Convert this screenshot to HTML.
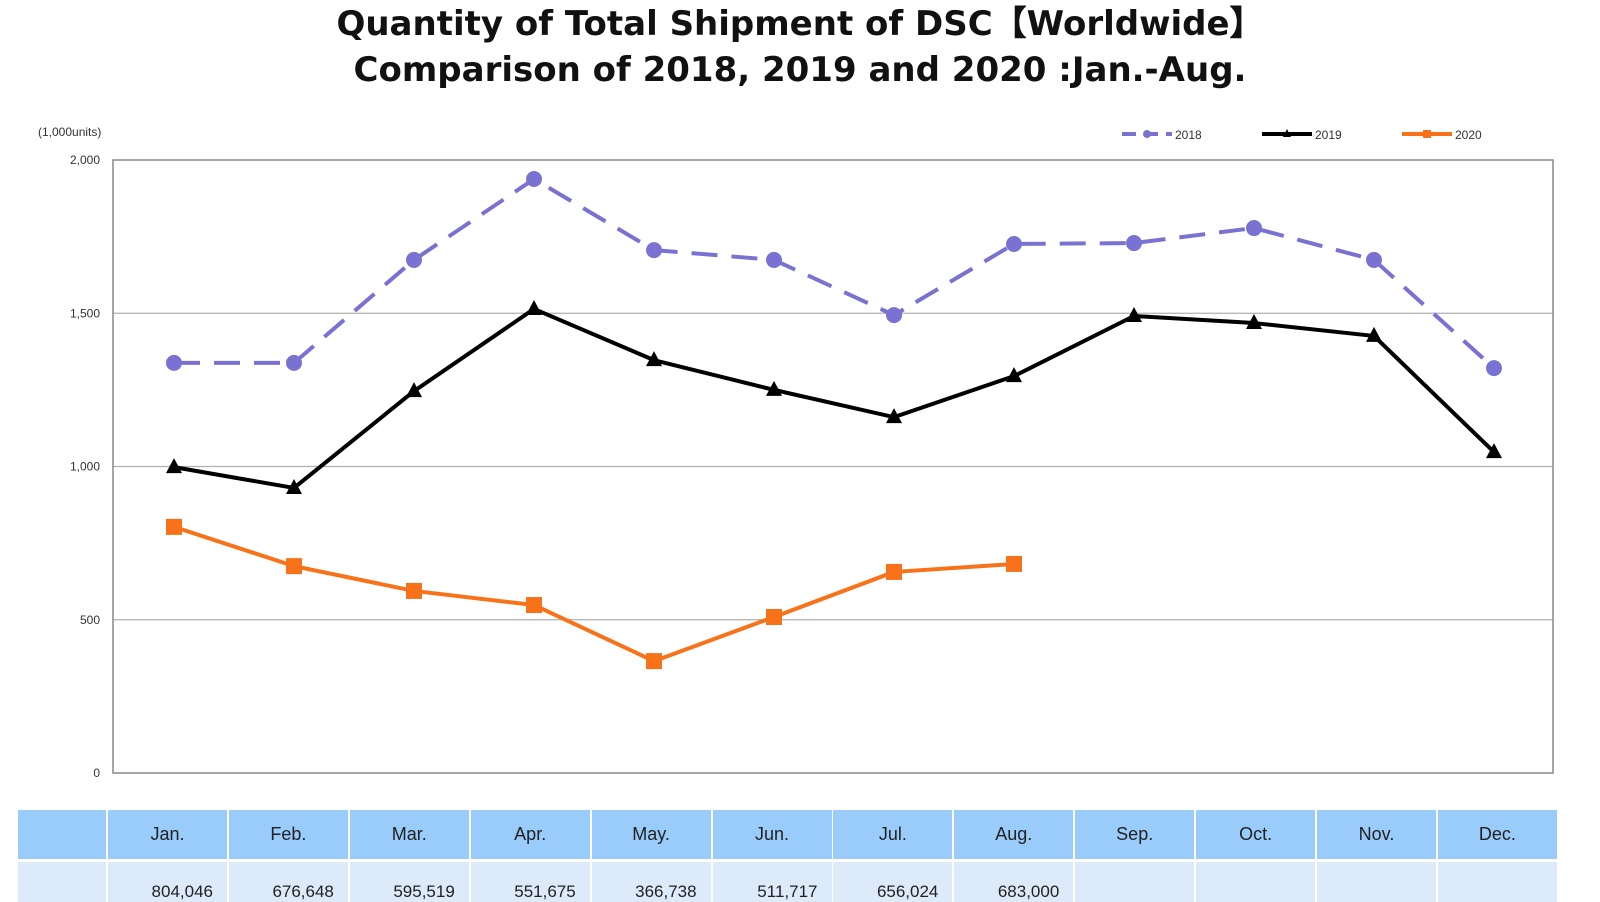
<!DOCTYPE html>
<html><head><meta charset="utf-8"><style>
body{margin:0;background:#fff;width:1600px;height:900px;overflow:hidden;font-family:"Liberation Sans",sans-serif;position:relative}
.t{position:absolute;left:0;width:1600px;text-align:center;font-weight:bold;font-size:34px;color:#111;font-family:"DejaVu Sans","Liberation Sans",sans-serif}
.cell{position:absolute;box-sizing:border-box;text-align:center;font-size:18px;color:#222}
</style></head><body>
<div class="t" style="top:-4px">Quantity of Total Shipment of DSC【Worldwide】</div>
<div class="t" style="top:50px">Comparison of 2018, 2019 and 2020 :Jan.-Aug.</div>
<svg id="chart" width="1600" height="800" style="position:absolute;left:0;top:0"></svg>
<div id="table"></div>
<script>
const months=["Jan.","Feb.","Mar.","Apr.","May.","Jun.","Jul.","Aug.","Sep.","Oct.","Nov.","Dec."];
const s2018=[1338,1338,1674,1938,1706,1674,1494,1726,1729,1778,1674,1321];
const s2019=[998,930,1246,1514,1347,1250,1161,1295,1491,1468,1426,1047];
const s2020=[803,675,594,548,365,509,656,682];
const yTicks=[0,500,1000,1500,2000];
const tickLabels=["0","500","1,000","1,500","2,000"];
const row2020=["804,046","676,648","595,519","551,675","366,738","511,717","656,024","683,000"];
const NS="http://www.w3.org/2000/svg";
const svg=document.getElementById('chart');
const L=113,R=1553,T=160,B=773;
const x=i=>174+i*(R-L)/12;
const y=v=>B-(v/2000)*(B-T);
function el(tag,a,parent){const e=document.createElementNS(NS,tag);for(const k in a)e.setAttribute(k,a[k]);(parent||svg).appendChild(e);return e;}
yTicks.forEach((v,i)=>{
 if(v>0&&v<2000){const g=el('line',{x1:L,x2:R,y1:y(v),y2:y(v),stroke:'#b0b0b0','stroke-width':1.2});
 
 }
 const t=el('text',{x:100,y:y(v)+4,'text-anchor':'end','font-size':12,fill:'#333'});t.textContent=tickLabels[i];
 
 
});
const fr=el('rect',{x:L,y:T,width:R-L,height:B-T,fill:'none',stroke:'#888','stroke-width':1.5});


const u=el('text',{x:38,y:136,'font-size':12,fill:'#333'});u.textContent='(1,000units)';


function series(data,color,dash,marker,name){
 const pl=el('polyline',{points:data.map((v,i)=>x(i)+','+y(v)).join(' '),fill:'none',stroke:color,'stroke-width':4,'stroke-dasharray':dash||'none','stroke-linejoin':'round'});
 
 
 data.forEach((v,i)=>{let m;
  if(marker==='c')m=el('circle',{cx:x(i),cy:y(v),r:8,fill:color});
  else if(marker==='t')m=el('polygon',{points:`${x(i)},${y(v)-9} ${x(i)-8},${y(v)+6} ${x(i)+8},${y(v)+6}`,fill:color});
  else m=el('rect',{x:x(i)-8,y:y(v)-8,width:16,height:16,fill:color});
  
  
 });
}
series(s2018,'#7a72d2','26,14','c','2018');
series(s2019,'#000','','t','2019');
series(s2020,'#f87219','','s','2020');
[['2018','#7a72d2',1122,'c'],['2019','#000',1262,'t'],['2020','#f87219',1402,'s']].forEach(l=>{
 const g=el('g',{});
 
 
 el('line',{x1:l[2],x2:l[2]+50,y1:134,y2:134,stroke:l[1],'stroke-width':4,'stroke-dasharray':l[3]==='c'?'14,8':'none'},g);
 if(l[3]==='c')el('circle',{cx:l[2]+25,cy:134,r:4,fill:l[1]},g);
 else if(l[3]==='s')el('rect',{x:l[2]+21,y:130,width:8,height:8,fill:l[1]},g);
 else el('polygon',{points:`${l[2]+25},129 ${l[2]+21},137 ${l[2]+29},137`,fill:l[1]},g);
 const t=el('text',{x:l[2]+53,y:139,'font-size':12,fill:'#333'},g);t.textContent=l[0];
});
const tb=document.getElementById('table');
function cell(left,top,w,h,bg,txt,name){const d=document.createElement('div');d.className='cell';
 d.style.cssText=`left:${left}px;top:${top}px;width:${w}px;height:${h}px;background:${bg};line-height:${h}px`;
 d.textContent=txt;
 
 
 tb.appendChild(d);}
cell(18,810,88,49,'#99ccfa','','table-corner');
cell(18,862,88,40,'#ddeafa','','table-row-label');
months.forEach((m,i)=>{const lx=108+i*120.9;
 cell(lx,810,119,49,'#99ccfa',m,'month-header');
 const c=row2020[i]||'';
 cell(lx,862,119,40,'#ddeafa','','table-value');
 if(c){const d=tb.lastChild;d.style.lineHeight='normal';d.style.paddingTop='20px';d.style.fontSize='17px';d.style.textAlign='right';d.style.paddingRight='14px';d.textContent=c;}
});
</script>
</body></html>
